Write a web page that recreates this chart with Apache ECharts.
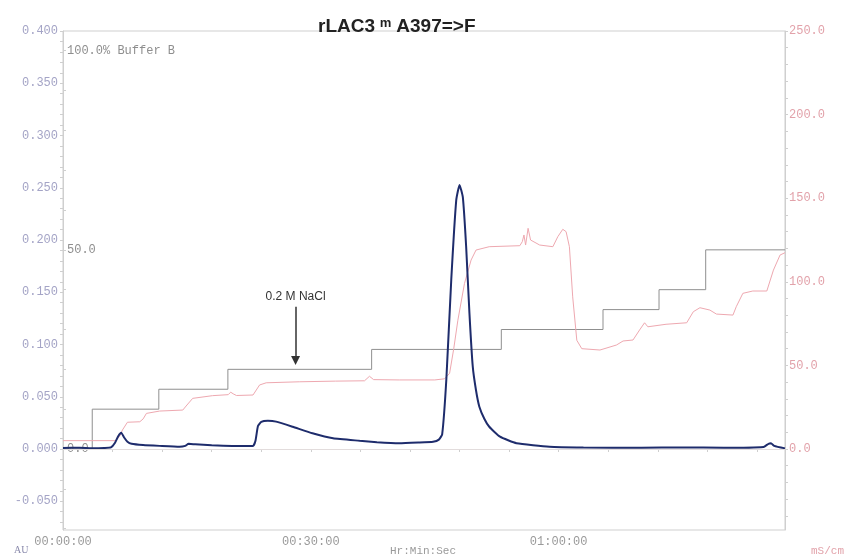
<!DOCTYPE html>
<html>
<head>
<meta charset="utf-8">
<script src="https://cdn.jsdelivr.net/npm/echarts@6/dist/echarts.min.js"></script>
<style>
  html, body { margin: 0; padding: 0; background: #fff; }
  #chart { width: 850px; height: 556px; }
</style>
</head>
<body>
<div id="chart"></div>
<script>
// UV 280 trace (AU) against run time in minutes
const uvTime = [0, 2, 3.5, 5.0, 5.8, 6.3, 6.7, 7.05, 7.4, 7.8, 8.3, 9.7, 11.7, 14.1, 14.8, 15.2, 16.0, 18.0, 20.5, 23.0,
  23.3, 23.6, 24.0, 24.8, 25.8, 27.8, 30.2, 32.7, 35.9, 38, 40.7, 43.0, 44.8, 45.5, 45.9, 46.4, 47.0, 47.6, 48.0, 48.4,
  48.8, 49.2, 49.6, 50.0, 50.4, 51.0, 51.6, 52.9, 54.9, 58.9, 63, 70, 75, 80, 84.8, 85.4, 85.7, 86.1, 87.4];
const uvAU = [0.0010, 0.0012, 0.0008, 0.0010, 0.0015, 0.0060, 0.0125, 0.0156, 0.0110, 0.0070, 0.0050, 0.0038, 0.0030,
  0.0022, 0.0030, 0.0050, 0.0045, 0.0035, 0.0030, 0.0030, 0.0080, 0.0220, 0.0260, 0.0270, 0.0262, 0.0213, 0.0150,
  0.0102, 0.0079, 0.0065, 0.0055, 0.0062, 0.0070, 0.0090, 0.0140, 0.0660, 0.1620, 0.2380, 0.2527, 0.2410, 0.1940,
  0.1300, 0.0790, 0.0560, 0.0405, 0.0290, 0.0213, 0.0118, 0.0055, 0.0022, 0.0015, 0.0012, 0.0015, 0.0012, 0.0020,
  0.0050, 0.0055, 0.0030, 0.0006];

// conductivity (mS/cm)
const condTime = [0, 6.4, 6.9, 7.2, 7.8, 9.3, 9.7, 10.1, 11.7, 14.5, 14.9, 15.7, 18.1, 20.0, 20.3, 20.6, 21.0, 23.0,
  23.8, 24.6, 28.6, 33, 36.5, 37.1, 37.6, 40.7, 45, 46.2, 46.8, 47.3, 47.8, 48.6, 49.4, 50.0, 51.6, 55.3, 55.6, 55.8,
  56.0, 56.3, 56.6, 57.7, 59.3, 59.9, 60.5, 60.9, 61.3, 61.7, 62.2, 62.8, 65, 67, 67.8, 69, 69.8, 70.4, 70.8, 73,
  75.5, 76.3, 77.1, 78.3, 79.1, 81.1, 81.5, 82.3, 83.5, 85.2, 86.0, 86.8, 87.4];
const condMS = [5.0, 5.0, 8.0, 11.4, 16.0, 16.3, 18, 21.3, 22.7, 23.3, 25.7, 30.3, 31.9, 32.5, 34.0, 33.0, 32.0, 32.3,
  38.3, 39.6, 40.2, 40.6, 40.8, 43.5, 41.5, 41.3, 41.3, 42, 45.3, 60, 77, 99, 113, 119, 121, 121.6, 124, 128,
  122, 132, 125, 122, 121, 127, 131.4, 130, 121, 91, 65, 60, 59.2, 62.2, 64.6, 65.2, 71.2, 75.5, 73.1, 74.6,
  75.5, 82.1, 84.5, 83.1, 80.7, 80.1, 85.1, 93.1, 94.5, 94.5, 107, 116, 117.4];

// % Buffer B step gradient (time of each step, new level)
const concTime = [0, 3.54, 11.6, 19.96, 37.36, 53.06, 65.37, 72.15, 77.8, 87.4];
const concB = [0, 10, 15, 20, 25, 30, 35, 40, 50, 50];

// axis ticks
const timeLabels = [0, 30, 60];
const timeTicks = [0, 6, 12, 18, 24, 30, 36, 42, 48, 54, 60, 66, 72, 78, 84];
const auLabels = [-0.05, 0, 0.05, 0.1, 0.15, 0.2, 0.25, 0.3, 0.35, 0.4];
const msLabels = [0, 50, 100, 150, 200, 250];
const bLabels = [0, 50, 100];

const auTicks = [];
for (let i = -7; i <= 40; i++) auTicks.push(i / 100);
const msTicks = [];
for (let i = -4; i <= 25; i++) msTicks.push(i * 10);
const bTicks = [];
for (let i = -2; i <= 10; i++) bTicks.push(i * 10);

const mono = 'Liberation Mono';

function hms(m) {
  const h = Math.floor(m / 60);
  const mm = Math.round(m % 60);
  return String(h).padStart(2, '0') + ':' + String(mm).padStart(2, '0') + ':00';
}

const chart = echarts.init(document.getElementById('chart'));
chart.setOption({
  animation: false,
  backgroundColor: '#fff',
  title: {
    text: 'rLAC3 \u1D50 A397=>F',
    left: 313,
    top: 12,
    textStyle: { fontFamily: 'Liberation Sans', fontWeight: 'bold', fontSize: 19, color: '#222' }
  },
  grid: { left: 63, right: 65, top: 31, bottom: 26, show: true, borderColor: '#cfcfcf', borderWidth: 1 },
  xAxis: {
    type: 'value',
    min: 0,
    max: 87.4,
    axisLine: { show: true, lineStyle: { color: '#cfcfcf' } },
    axisTick: { customValues: timeTicks, length: 3, lineStyle: { color: '#cfcfcf' } },
    axisLabel: {
      customValues: timeLabels,
      formatter: hms,
      color: '#9a9a9a',
      fontFamily: mono,
      fontSize: 12,
      margin: 6
    },
    splitLine: { show: false }
  },
  yAxis: [
    {
      type: 'value',
      position: 'left',
      min: -0.0775,
      max: 0.4,
      axisLine: { show: true, lineStyle: { color: '#cfcfcf' } },
      axisTick: { customValues: auTicks, length: 3, lineStyle: { color: '#cfcfcf' } },
      axisLabel: {
        customValues: auLabels,
        formatter: v => v.toFixed(3),
        color: '#a4a4c6',
        fontFamily: mono,
        fontSize: 12,
        margin: 5
      },
      splitLine: { show: false }
    },
    {
      type: 'value',
      position: 'right',
      min: -48.44,
      max: 250,
      axisLine: { show: true, lineStyle: { color: '#cfcfcf' } },
      axisTick: { customValues: msTicks, length: 3, lineStyle: { color: '#cfcfcf' } },
      axisLabel: {
        customValues: msLabels,
        formatter: v => v.toFixed(1),
        color: '#e2a2aa',
        fontFamily: mono,
        fontSize: 12,
        margin: 4
      },
      splitLine: { show: false }
    },
    {
      type: 'value',
      position: 'left',
      offset: 0,
      min: -20.34,
      max: 104.95,
      axisLine: { show: false },
      axisTick: { inside: true, customValues: bTicks, length: 3, lineStyle: { color: '#cfcfcf' } },
      axisLabel: {
        inside: true,
        customValues: bLabels,
        formatter: v => (v === 100 ? '100.0% Buffer B' : v.toFixed(1)),
        color: '#8e8e8e',
        fontFamily: mono,
        fontSize: 12,
        margin: 4
      },
      splitLine: { show: false }
    }
  ],
  series: [
    {
      name: '% Buffer B',
      type: 'line',
      yAxisIndex: 2,
      step: 'end',
      symbol: 'none',
      data: concTime.map((t, i) => [t, concB[i]]),
      lineStyle: { color: '#8f8f8f', width: 1 },
      markLine: {
        silent: true,
        animation: false,
        symbol: ['none', 'triangle'],
        symbolSize: 9,
        lineStyle: { color: '#333', width: 1.5, type: 'solid' },
        label: {
          show: true,
          position: 'start',
          formatter: '0.2 M NaCl',
          color: '#333',
          fontFamily: 'Liberation Sans',
          fontSize: 12,
          distance: 4
        },
        data: [[{ coord: [28.15, 35.7] }, { coord: [28.15, 22.2] }]]
      }
    },
    {
      name: 'Conductivity',
      type: 'line',
      yAxisIndex: 1,
      symbol: 'none',
      data: condTime.map((t, i) => [t, condMS[i]]),
      lineStyle: { color: '#eea8b0', width: 1 }
    },
    {
      name: 'UV',
      type: 'line',
      yAxisIndex: 0,
      symbol: 'none',
      smooth: 0.15,
      data: uvTime.map((t, i) => [t, uvAU[i]]),
      lineStyle: { color: '#1e2c6c', width: 2 },
      markLine: {
        silent: true,
        animation: false,
        symbol: 'none',
        label: { show: false },
        lineStyle: { color: '#e2dcdc', width: 1, type: 'solid' },
        data: [{ yAxis: 0 }]
      }
    }
  ],
  graphic: [
    { type: 'text', left: 14, top: 545, style: { text: 'AU', fill: '#8a8aac', font: '10px Liberation Serif' } },
    { type: 'text', left: 390, top: 546, style: { text: 'Hr:Min:Sec', fill: '#9a9a9a', font: '11px Liberation Mono' } },
    { type: 'text', left: 811, top: 546, style: { text: 'mS/cm', fill: '#e2a2aa', font: '11px Liberation Mono' } }
  ]
});
</script>
</body>
</html>
